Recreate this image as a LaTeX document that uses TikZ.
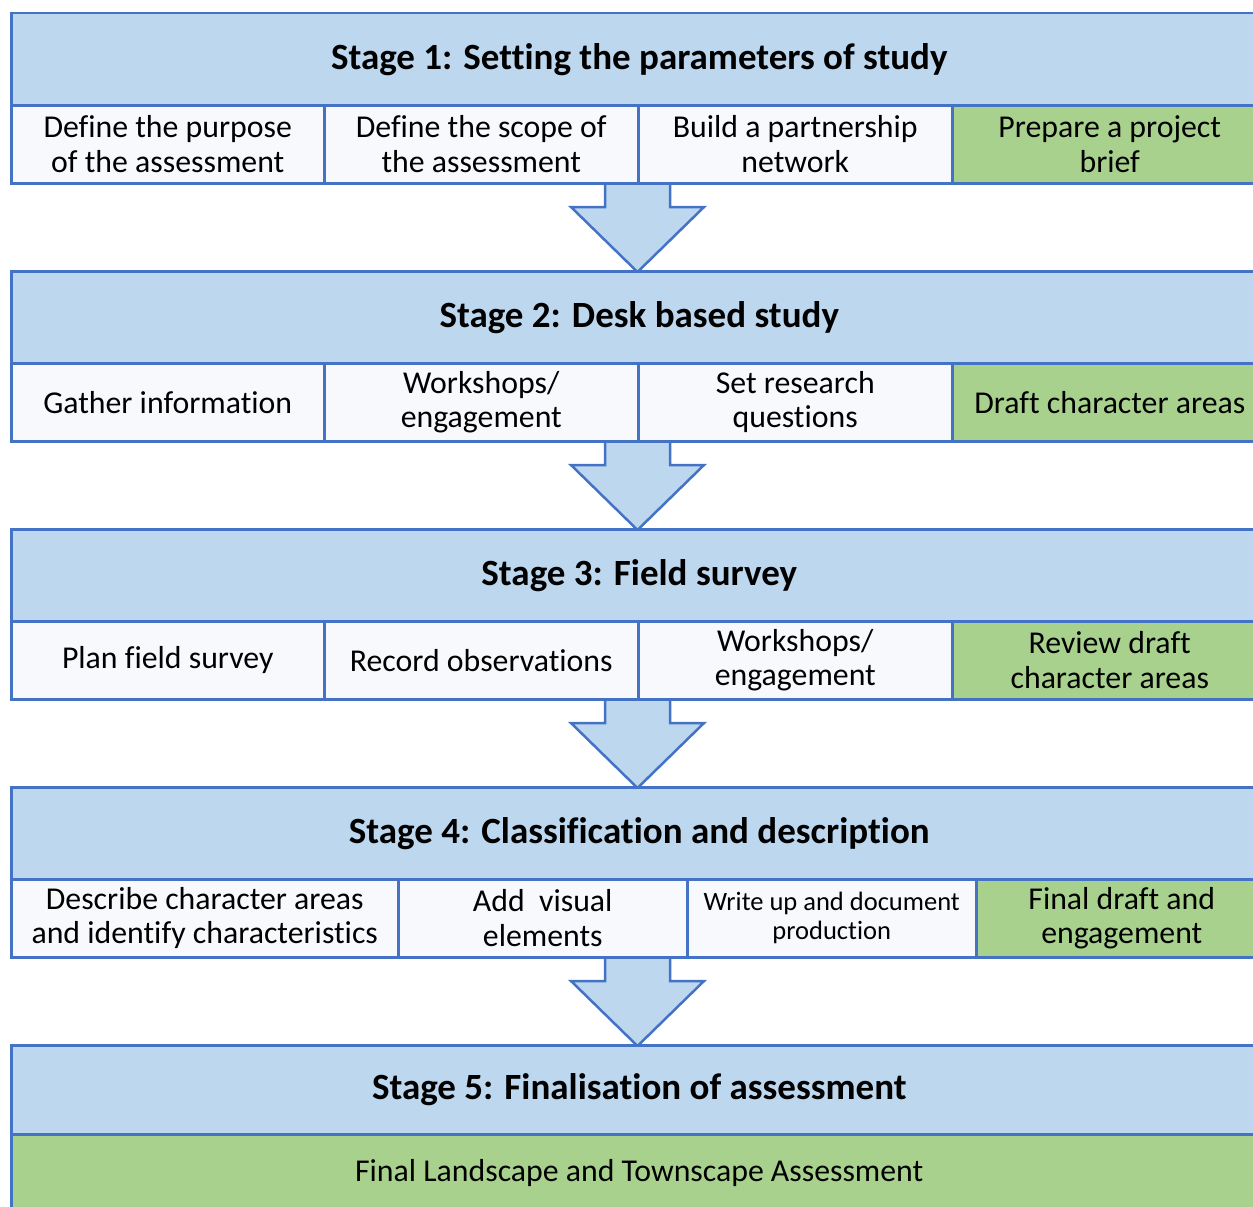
\documentclass[tikz,border=0pt]{standalone}
\usepackage{fontspec}
\setmainfont{Carlito}[RawFeature={-liga;-clig;-calt;-dlig;-rlig}]
\usetikzlibrary{calc}
\definecolor{bord}{HTML}{4472C4}
\definecolor{hdrfill}{HTML}{BDD7EE}
\definecolor{cellw}{HTML}{F7F9FD}
\definecolor{cellg}{HTML}{A9D18E}
\tikzset{
  hdr/.style={draw=bord, line width=2.5pt, fill=hdrfill, minimum height=92pt, minimum width=1256pt,
    inner sep=0pt, anchor=north west, font=\fontsize{37}{42}\selectfont\bfseries},
  cell/.style={draw=bord, line width=2.5pt, fill=cellw, minimum height=78pt, inner sep=0pt,
    anchor=north west, align=center, font=\fontsize{31.8}{34.5}\selectfont},
  gcell/.style={cell, fill=cellg},
  barrow/.style={draw=bord, line width=2.5pt, fill=hdrfill, line join=miter}
}
\begin{document}
\begin{tikzpicture}[x=1pt,y=-1pt]
\useasboundingbox (0,0) rectangle (1253,1207);
\clip (0,0) rectangle (1253,1207);
% arrows (behind boxes)
\foreach \t/\b in {182/270, 440/528, 698/786, 956/1044}{
  \draw[barrow] (605,\t) -- (670,\t) -- (670,\t+25) -- (704,\t+25) -- (637.5,\b+2)
    -- (571,\t+25) -- (605,\t+25) -- cycle;
}
% Stage 1
\node[hdr] (s1) at (10,12) {Stage 1: Setting the parameters of study};
\node[cell, minimum width=313pt] (a1) at (10,104) {Define the purpose\\of the assessment};
\node[cell, minimum width=314pt] (a2) at (323,104) {Define the scope of\\the assessment};
\node[cell, minimum width=314pt] (a3) at (637,104) {Build a partnership\\network};
\node[gcell, minimum width=315pt] (a4) at (951,104) {Prepare a project\\brief};
% Stage 2
\node[hdr] (s2) at (10,270) {Stage 2: Desk based study};
\node[cell, minimum width=313pt] (b1) at (10,362) {Gather information};
\node[cell, minimum width=314pt] (b2) at (323,362) {Workshops/\\engagement};
\node[cell, minimum width=314pt] (b3) at (637,362) {Set research\\questions};
\node[gcell, minimum width=315pt] (b4) at (951,362) {Draft character areas};
% Stage 3
\node[hdr] (s3) at (10,528) {Stage 3: Field survey};
\node[cell, minimum width=313pt] (c1) at (10,620) {Plan field survey};
\node[cell, minimum width=314pt] (c2) at (323,620) {Record observations};
\node[cell, minimum width=314pt] (c3) at (637,620) {Workshops/\\engagement};
\node[gcell, minimum width=315pt] (c4) at (951,620) {Review draft\\character areas};
% Stage 4
\node[hdr] (s4) at (10,786) {Stage 4: Classification and description};
\node[cell, minimum width=387pt] (d1) at (10,878) {Describe character areas\\and identify characteristics};
\node[cell, minimum width=289pt] (d2) at (397,878) {Add\ \ visual\\elements};
\node[cell, minimum width=289pt, font=\fontsize{26.5}{29}\selectfont] (d3) at (686,878) {Write up and document\\production};
\node[gcell, minimum width=291pt] (d4) at (975,878) {Final draft and\\engagement};
% Stage 5
\node[hdr, minimum height=89pt] (s5) at (10,1044) {Stage 5: Finalisation of assessment};
\node[gcell, minimum width=1256pt] (e1) at (10,1133) {Final Landscape and Townscape Assessment};
\end{tikzpicture}
\end{document}
